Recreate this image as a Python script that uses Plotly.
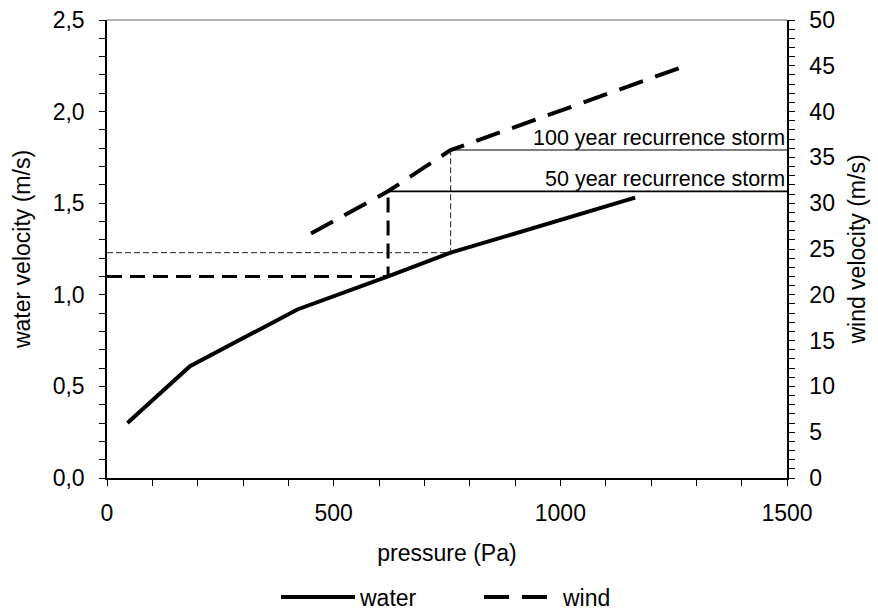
import plotly.graph_objects as go

# Data
water_p = [45, 183, 420, 620, 758, 1165]
water_v = [0.30, 0.61, 0.92, 1.10, 1.23, 1.53]

wind_p = [450, 620, 758, 1265]
wind_v = [26.7, 31.3, 35.8, 44.8]

storm_names = ["50 year recurrence storm", "100 year recurrence storm"]
storm_p = [620, 758]          # pressure at storm wind velocity
storm_wind = [31.3, 35.8]     # wind velocity (m/s)
storm_water = [1.10, 1.23]    # water velocity (m/s) at that pressure
p_max = 1500

FONT = "Liberation Sans, Arial, sans-serif"
FS_TICK = 23
FS_TITLE = 23
FS_ANN = 21.5
FS_LEG = 23

fig = go.Figure()

fig.add_trace(go.Scatter(x=water_p, y=water_v, mode="lines", name="water",
                         line=dict(color="black", width=4), yaxis="y"))
fig.add_trace(go.Scatter(x=wind_p, y=wind_v, mode="lines", name="wind",
                         line=dict(color="black", width=4, dash="25px,13px"), yaxis="y2"))

ratio = 50 / 2.5
# 50-year storm guide lines (thick dashed)
fig.add_trace(go.Scatter(x=[0, storm_p[0], storm_p[0]],
                         y=[storm_water[0] * ratio, storm_water[0] * ratio, storm_wind[0]],
                         mode="lines", showlegend=False, hoverinfo="skip",
                         line=dict(color="black", width=3, dash="15px,8px"), yaxis="y2"))
# 100-year storm guide lines (thin dashed)
fig.add_trace(go.Scatter(x=[0, storm_p[1], storm_p[1]],
                         y=[storm_water[1] * ratio, storm_water[1] * ratio, storm_wind[1]],
                         mode="lines", showlegend=False, hoverinfo="skip",
                         line=dict(color="#222222", width=1, dash="6px,3px"), yaxis="y2"))
# horizontal storm lines
for i, w in zip([0, 1], [1.7, 1.1]):
    fig.add_trace(go.Scatter(x=[storm_p[i], p_max], y=[storm_wind[i], storm_wind[i]],
                             mode="lines", showlegend=False, hoverinfo="skip",
                             line=dict(color="black", width=w), yaxis="y2"))
    fig.add_annotation(x=p_max, y=storm_wind[i], yref="y2", xref="x", text=storm_names[i],
                       showarrow=False, xanchor="right", yanchor="bottom", yshift=-2, xshift=0,
                       font=dict(family=FONT, size=FS_ANN, color="black"))

# top frame line
fig.add_shape(type="line", xref="paper", yref="paper", x0=0, x1=1, y0=1, y1=1,
              line=dict(color="#999999", width=1.5))

axis_common = dict(showgrid=False, zeroline=False, showline=True, linecolor="black",
                   linewidth=1.5, ticks="outside", tickcolor="black", ticklen=6,
                   automargin=False,
                   tickfont=dict(family=FONT, size=FS_TICK, color="black"))

fig.update_layout(
    width=878, height=612,
    margin=dict(l=107, r=91, t=20, b=134, autoexpand=False),
    plot_bgcolor="white", paper_bgcolor="white",
    separators=",.",
    font=dict(family=FONT, size=FS_TICK, color="black"),
    xaxis=dict(range=[0, 1500], dtick=500, tickformat="d", ticklabelstandoff=8,
               minor=dict(dtick=100, ticks="outside", ticklen=6, tickcolor="black"),
               title=dict(text="pressure (Pa)", standoff=20, font=dict(family=FONT, size=FS_TITLE)),
               **axis_common),
    yaxis=dict(range=[0, 2.5], dtick=0.5, tickformat=".1f", ticklabelstandoff=10,
               minor=dict(dtick=0.1, ticks="outside", ticklen=6, tickcolor="black"),
               title=dict(text="water velocity (m/s)", standoff=16, font=dict(family=FONT, size=FS_TITLE)),
               **axis_common),
    yaxis2=dict(range=[0, 50], dtick=5, overlaying="y", side="right", tickformat="d",
                ticklabelstandoff=10,
                minor=dict(dtick=1, ticks="outside", ticklen=6, tickcolor="black"),
                title=dict(text="wind velocity (m/s)", standoff=15, font=dict(family=FONT, size=FS_TITLE)),
                **axis_common),
    legend=dict(orientation="h", x=(276 - 107) / 680, xanchor="left", y=-0.26, yanchor="middle",
                font=dict(family=FONT, size=FS_LEG), itemwidth=74, entrywidth=114,
                bgcolor="rgba(0,0,0,0)"),
    showlegend=True,
)

fig.write_html("out.html")
